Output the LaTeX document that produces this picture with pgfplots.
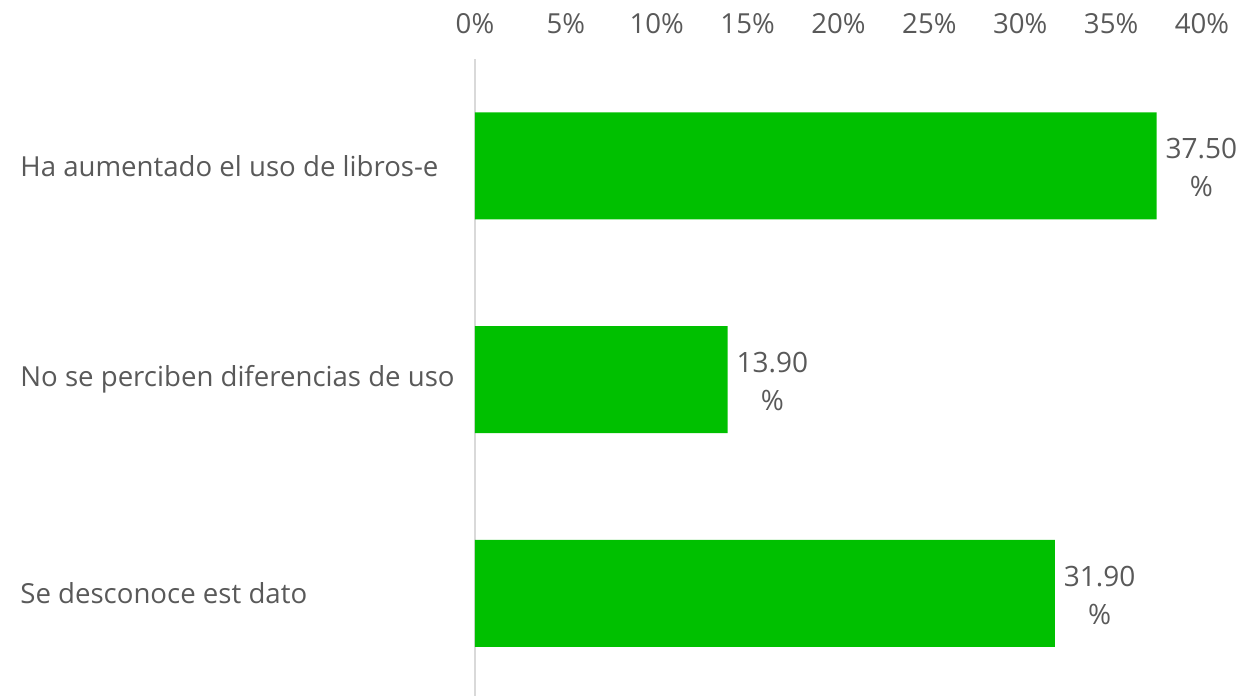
\documentclass[border=0pt]{standalone}
\usepackage{pgfplots}
\pgfplotsset{compat=1.18}
\usepackage{fontspec}
\setmainfont{Open Sans}
\definecolor{bargreen}{HTML}{00C000}
\definecolor{txt}{HTML}{595959}
\definecolor{axgray}{HTML}{D9D9D9}
\begin{document}
\begin{tikzpicture}
\begin{axis}[
  name=ax,
  scale only axis,
  width=363.5pt, height=318.5pt,
  xbar, bar width=53.5pt,
  xmin=0, xmax=40,
  ymin=-0.5, ymax=2.48,
  y dir=reverse,
  axis x line*=top,
  axis y line*=left,
  x axis line style={draw=none},
  y axis line style={draw=axgray, line width=1pt},
  xtick={0,5,...,40},
  xticklabel={\pgfmathprintnumber{\tick}\%},
  /pgf/number format/assume math mode=true,
  xticklabel style={font=\fontsize{13.8}{15}\selectfont, text=txt, yshift=9pt},
  major tick length=0pt,
  ytick={0,1,2},
  yticklabels={Ha aumentado el uso de libros-e, No se perciben diferencias de uso, Se desconoce est dato},
  yticklabel style={font=\fontsize{13.8}{15}\selectfont, text=txt, anchor=west, inner sep=0pt, xshift=-227.5pt},
  nodes near coords={\pgfmathprintnumber[fixed,fixed zerofill,precision=2]{\pgfplotspointmeta}\\\%},
  nodes near coords style={font=\fontsize{14}{19}\selectfont, text=txt, align=center, anchor=west, xshift=1pt, yshift=-1pt},
  point meta=x,
]
\addplot[fill=bargreen, draw=none] coordinates {(37.5,0) (13.9,1) (31.9,2)};
\end{axis}
\pgfresetboundingbox
\path (ax.south west) ++(-237.5pt,0) rectangle ++(624pt,348pt);
\end{tikzpicture}
\end{document}
